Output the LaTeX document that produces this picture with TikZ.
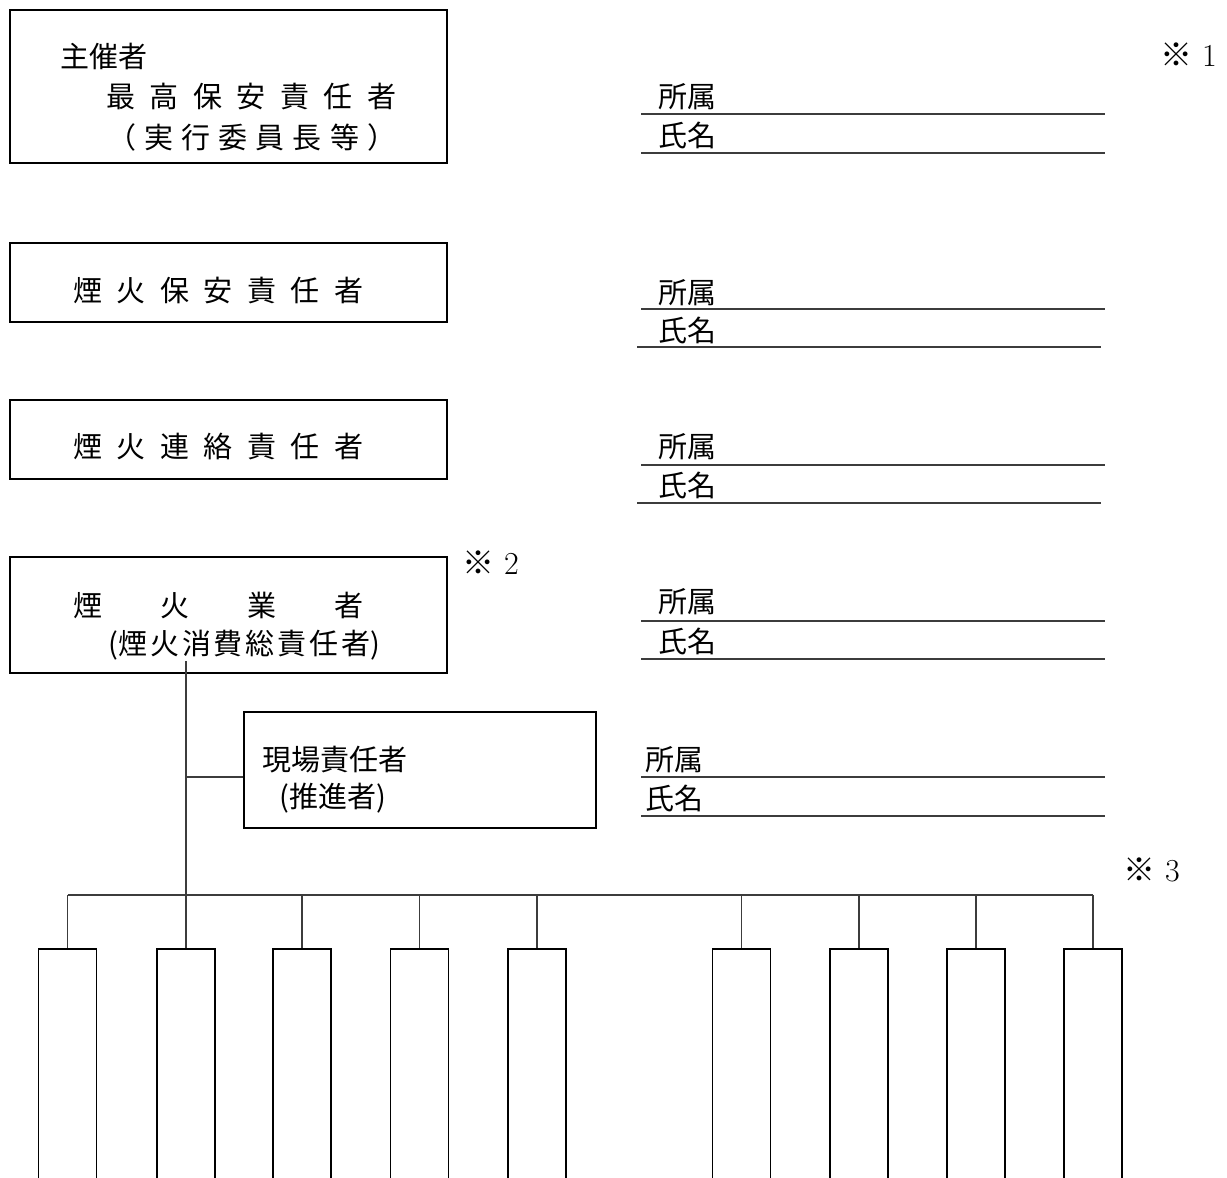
\documentclass[tikz,border=0pt]{standalone}
\usepackage{fontspec}
\newfontfamily\jp{Noto Sans CJK JP}
\definecolor{ink}{HTML}{000000}
\definecolor{wire}{HTML}{3C3C3C}
\makeatletter
\newcommand{\spaced}[2]{%
  \def\sp@first{1}%
  \@tfor\sp@c:=#2\do{\ifx\sp@first\@empty\hspace{#1}\fi\sp@c\def\sp@first{}}}
\makeatother
\tikzset{
  every node/.style={font=\jp\fontsize{14.5}{18}\selectfont, text=ink, inner sep=0pt},
  frame/.style n args={2}{draw=ink, line width=0.85pt, minimum width=#1*0.5pt,
                          minimum height=#2*0.5pt},
  crew/.style={draw=ink, line width=0.75pt, minimum width=29pt, minimum height=130pt, anchor=north},
  txt/.style={anchor=west},
  note/.style={anchor=west, font=\jp\fontsize{16}{18}\selectfont},
  conn/.style={draw=wire, line width=0.55pt},
  uline/.style={draw=wire, line width=0.75pt},
}

\begin{document}
\begin{tikzpicture}[x=0.5pt, y=-0.5pt]
\useasboundingbox (0,0) rectangle (1227,1178);
% ---- left column (boxes) ------------------------------------------------------
\node[frame={437}{153}] (chief)   at (228.5,86.5) {};
\node[frame={437}{79}]  (safety)  at (228.5,282.5) {};
\node[frame={437}{79}]  (liaison) at (228.5,439.5) {};
\node[frame={437}{116}] (firm)    at (228.5,615) {};
\node[frame={352}{116}] (site)    at (420,770) {};

% ---- box texts ----------------------------------------------------------------
\node[txt] (chiefA)   at (60,56)   {主催者};
\node[txt] (chiefB)   at (106,97)  {\spaced{.5em}{最高保安責任者}};
\node[txt] (chiefC)   at (107,137) {\spaced{.28em}{（実行委員長等）}};
\node[txt] (safetyT)  at (73,291)  {\spaced{.5em}{煙火保安責任者}};
\node[txt] (liaisonT) at (73,447)  {\spaced{.5em}{煙火連絡責任者}};
\node[txt] (firmA)    at (73,605)  {\spaced{2em}{煙火業者}};
\node[txt] (firmB)    at (108,645) {(\spaced{.1em}{煙火消費総責任者})};
\node[txt] (siteA)    at (262,760) {現場責任者};
\node[txt] (siteB)    at (279,798) {(推進者)};

% ---- notes --------------------------------------------------------------------
\node[note] (n1) at (1160,55)  {※\hspace{.3em}{\rmfamily 1}};
\node[note] (n2) at (462,563)  {※\hspace{.3em}{\rmfamily 2}};
\node[note] (n3) at (1123,870) {※\hspace{.3em}{\rmfamily 3}};

% ---- right column (affiliation / name lines) ----------------------------------
\foreach \r/\tx/\ya/\la/\yb/\lb/\xo in {1/658/97/114/135/153/641, 2/658/293/309/330/347/637,
    3/658/447/465/485/503/637, 4/658/602/621/641/659/641, 5/645/760/777/798/816/641}{
  \node[txt] (aff\r) at (\tx,\ya) {所属};
  \node[txt] (nam\r) at (\tx,\yb) {氏名};
  \draw[uline] (641,\la) -- (1105,\la);
  \draw[uline] (\xo,\lb) -- ({\xo+464},\lb);
}

% ---- crew boxes ---------------------------------------------------------------
\foreach \i/\x in {1/67.5, 2/186, 3/302, 4/419.5, 5/537, 6/741.5, 7/859, 8/976, 9/1093}
  \node[crew] (crew\i) at (\x,948) {};

% ---- edges --------------------------------------------------------------------
\coordinate (trunk)  at (186,661);
\coordinate (branch) at (186,777);
\coordinate (bus)    at (0,895);
\draw[conn] (trunk) -- (crew2.north);
\draw[conn] (branch) -- (branch -| site.west);
\draw[conn] (crew1.north |- bus) -- (crew9.north |- bus);
\foreach \i in {1,3,4,5,6,7,8,9}
  \draw[conn] (crew\i.north |- bus) -- (crew\i.north);
\end{tikzpicture}
\end{document}
